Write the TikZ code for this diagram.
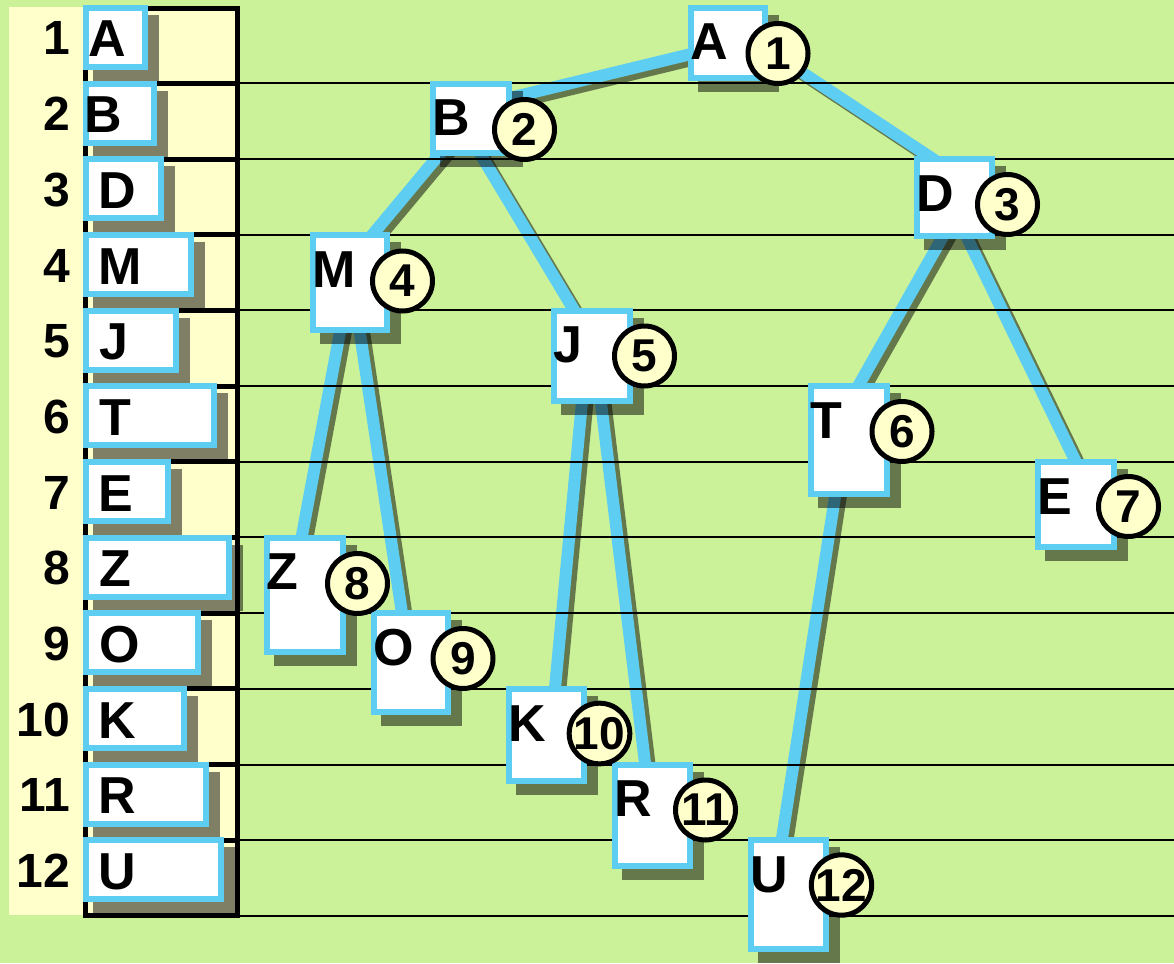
\documentclass[tikz,border=0pt]{standalone}
\usepackage{fontspec}
\setmainfont{Liberation Sans}
\usetikzlibrary{calc}
\definecolor{bggreen}{RGB}{204,242,153}
\definecolor{paley}{RGB}{255,255,204}
\definecolor{nblue}{RGB}{94,205,242}
\pgfdeclarelayer{bgl}
\pgfdeclarelayer{edl}
\pgfdeclarelayer{lnl}
\pgfdeclarelayer{shl}
\pgfsetlayers{bgl,edl,lnl,shl,main}
\newcommand\ltrfont{\fontsize{52}{52}\selectfont\bfseries}
\newcommand\numfont{\fontsize{46}{46}\selectfont\bfseries}
\newcommand\rowfont{\fontsize{48}{48}\selectfont\bfseries}
% tree node: name, left, top, width, height, letter
\newcommand\tnode[6]{%
  \node[wbox, minimum width={#4pt-6pt}, minimum height={#5pt-6pt}] (#1) at (#2,#3) {};
  \node[ltr] (#1t) at ({#2+2.5},{#3+55}) {#6};
  \begin{pgfonlayer}{shl}
    \fill[boxshadow] ([shift={(10,10)}]#1.north west) rectangle ([shift={(11,11)}]#1.south east);
  \end{pgfonlayer}}
% table row: name, top, width, letter, text x, number
\newcommand\rnode[6]{%
  \node[wbox, minimum width={#3pt-6pt}, minimum height=59pt] (#1) at (83,#2) {};
  \node[ltr] (#1t) at (#5,{#2+52}) {#4};
  \node[rownum] (#1n) at (70.5,{#2+50}) {#6};
  \begin{pgfonlayer}{shl}
    \fill[boxshadow] ([shift={(10,10)}]#1.north west) rectangle ([shift={(11,11)}]#1.south east);
  \end{pgfonlayer}}
\newcommand\lnkS[4]{\draw[lshad] ([shift={#2},shift={(5,5)}]#1.center) -- ([shift={#4},shift={(5,5)}]#3.center);}
\newcommand\lnkB[4]{\draw[conn] ([shift={#2}]#1.center) -- ([shift={#4}]#3.center);}
\newcommand\edgelist{%
  \myE{A}{(-8,4)}{B}{(9,-13)}%
  \myE{c1}{(0,3)}{D}{(17.5,-13)}%
  \myE{B}{(-3,2)}{M}{(-7,-12.5)}%
  \myE{B}{(-8,7)}{J}{(0,-15.5)}%
  \myE{M}{(-4,17.5)}{Z}{(-9.5,-24.7)}%
  \myE{M}{(5,17.5)}{O}{(-5,-22.8)}%
  \myE{J}{(-7,14.3)}{K}{(5.5,-15)}%
  \myE{J}{(5,14.3)}{R}{(-3,-15.2)}%
  \myE{D}{(3.5,12)}{T}{(-10,-20.3)}%
  \myE{D}{(-1,12)}{E}{(13.5,-14.5)}%
  \myE{T}{(-8.3,19.7)}{U}{(-13,-14.8)}%
}
\begin{document}
\begin{tikzpicture}[x=1pt,y=-1pt,
  wbox/.style={draw=nblue, line width=6pt, fill=white, inner sep=0pt, anchor=north west},
  boxshadow/.style={fill=black, opacity=0.5},
  ltr/.style={anchor=base west, inner sep=0pt, font=\ltrfont},
  rownum/.style={anchor=base east, inner sep=0pt, font=\rowfont},
  numc/.style={circle, draw=black, line width=5pt, fill=paley, minimum size=60pt, inner sep=0pt, font=\numfont},
  conn/.style={draw=nblue, line width=12pt},
  lshad/.style={draw=black, line width=12pt},
  thinl/.style={draw=black, line width=2pt},
  tabl/.style={draw=black, line width=5pt}]
\useasboundingbox (0,0) rectangle (1174,963);
\begin{pgfonlayer}{bgl}
  \fill[bggreen] (0,0) rectangle (1174,963);
  \fill[paley] (9,7) rectangle (237,915);
  \foreach \k in {1,...,11} \draw[tabl] (85,{7.8+75.67*\k}) -- (237.5,{7.8+75.67*\k});
  \draw[tabl] (85.5,8.5) rectangle (237.5,915.5);
\end{pgfonlayer}
\begin{pgfonlayer}{lnl}
  \foreach \k in {1,...,12} \draw[thinl] (240,{7.8+75.67*\k}) -- (1174,{7.8+75.67*\k});
\end{pgfonlayer}
% table
\rnode{rA}{5}{65}{A}{88}{1}
\rnode{rB}{80.67}{74}{B}{84.5}{2}
\rnode{rD}{156.33}{81}{D}{98.5}{3}
\rnode{rM}{232}{111}{M}{98.5}{4}
\rnode{rJ}{307.67}{96}{J}{99.5}{5}
\rnode{rT}{383.33}{134}{T}{99.5}{6}
\rnode{rE}{459}{88}{E}{98.5}{7}
\rnode{rZ}{534.67}{149}{Z}{99.5}{8}
\rnode{rO}{610.33}{118}{O}{99.5}{9}
\rnode{rK}{686}{104}{K}{98.5}{10}
\rnode{rR}{761.67}{126}{R}{98.5}{11}
\rnode{rU}{837.33}{141}{U}{98.5}{12}
% tree nodes
\tnode{A}{688}{5}{80}{76}{A}
\tnode{B}{430}{80.67}{82}{75}{B}
\tnode{D}{914}{156.33}{81}{83}{D}
\tnode{M}{310}{232}{80}{101}{M}
\tnode{J}{551}{307.67}{82}{96}{J}
\tnode{T}{808}{383.33}{82}{114}{T}
\tnode{E}{1035}{459}{82}{91}{E}
\tnode{Z}{264}{534.67}{82}{120}{Z}
\tnode{O}{371}{610.33}{80}{105}{O}
\tnode{K}{506}{686}{81}{98}{K}
\tnode{R}{612}{761.67}{81}{107}{R}
\tnode{U}{748}{837.33}{81}{115}{U}
% circles
\node[numc] (c1) at (778,53.5) {1};
\node[numc] (c2) at (524.5,129.5) {2};
\node[numc] (c3) at (1007.5,204.5) {3};
\node[numc] (c4) at (402.5,281) {4};
\node[numc] (c5) at (644.5,356) {5};
\node[numc] (c6) at (902,431.5) {6};
\node[numc] (c7) at (1128.5,506.5) {7};
\node[numc] (c8) at (357.5,583.5) {8};
\node[numc] (c9) at (463,658.5) {9};
\node[numc] (c10) at (599.5,733.5) {10};
\node[numc] (c11) at (705.5,810) {11};
\node[numc] (c12) at (841.5,885) {12};
% connectors
\begin{pgfonlayer}{edl}
  \begin{scope}[transparency group, opacity=0.5]
    \let\myE\lnkS
    \edgelist
  \end{scope}
  \let\myE\lnkB
  \edgelist
\end{pgfonlayer}
\end{tikzpicture}
\end{document}
